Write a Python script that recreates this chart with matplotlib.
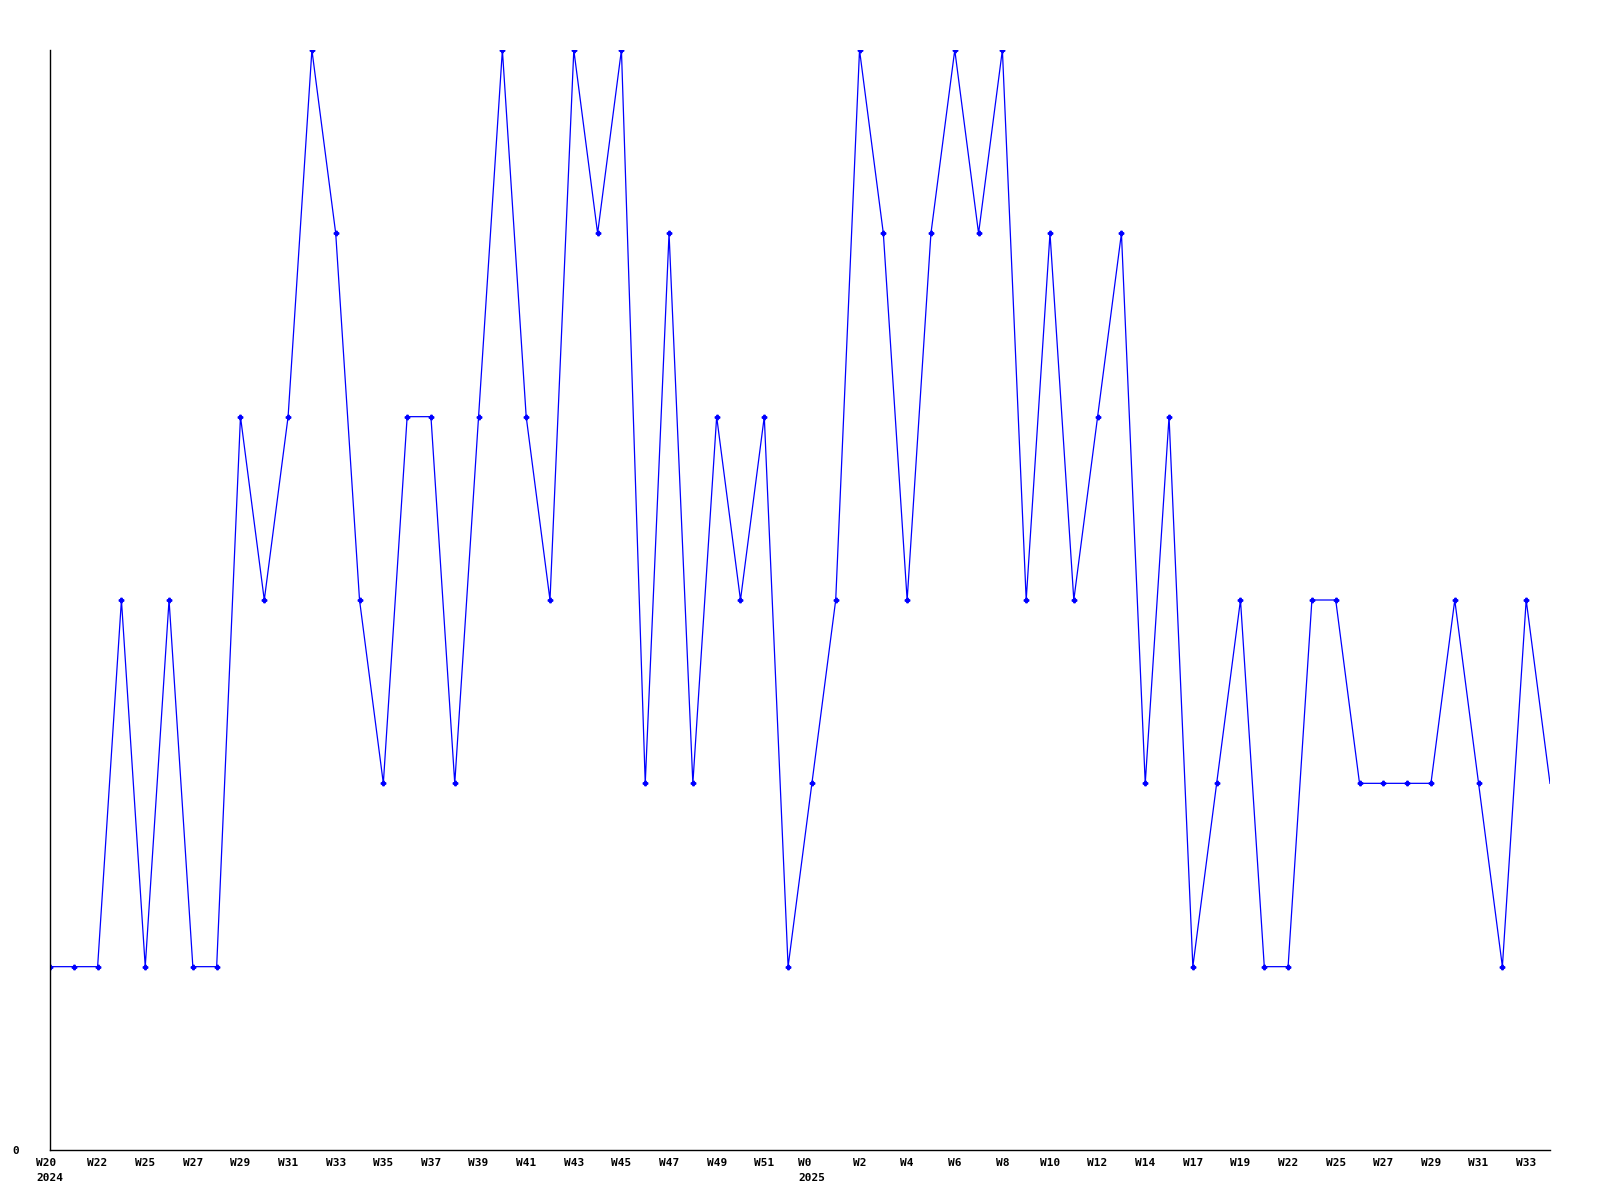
import numpy as np
import matplotlib
matplotlib.use("Agg")
import matplotlib.pyplot as plt

plt.rcParams["font.family"] = "DejaVu Sans Mono"
plt.rcParams["font.size"] = 8

values = [1, 1, 1, 3, 1, 3, 1, 1, 4, 3, 4, 6, 5, 3, 2, 4, 4, 2, 4, 6,
          4, 3, 6, 5, 6, 2, 5, 2, 4, 3, 4, 1, 2, 3, 6, 5, 3, 5, 6, 5,
          6, 3, 5, 3, 4, 5, 2, 4, 1, 2, 3, 1, 1, 3, 3, 2, 2, 2, 2, 3,
          2, 1, 3, 2]

week_labels = ["W20\n2024", "W22", "W25", "W27", "W29", "W31", "W33", "W35",
               "W37", "W39", "W41", "W43", "W45", "W47", "W49", "W51",
               "W0\n2025", "W2", "W4", "W6", "W8", "W10", "W12", "W14",
               "W17", "W19", "W22", "W25", "W27", "W29", "W31", "W33"]

x = np.arange(len(values))

fig = plt.figure(figsize=(16, 12), dpi=100)
ax = fig.add_axes([50/1600, 50/1200, 1500/1600, 1100/1200])

ax.plot(x, values, color="#0000ff", lw=0.9, marker="P", ms=3.2,
        markevery=list(range(len(values) - 1)))

ax.set_xlim(0, len(values) - 1)
ax.set_ylim(0, 6)
ax.set_xticks(x[::2])
ax.set_xticklabels(week_labels, fontweight="bold", linespacing=1.6,
                   va="top", multialignment="left")
ax.set_yticks([0])
ax.set_yticklabels(["0"], fontweight="bold")
ax.tick_params(length=0, pad=6)
ax.tick_params(axis="y", pad=22)
ax.spines["top"].set_visible(False)
ax.spines["right"].set_visible(False)
ax.spines["left"].set_linewidth(1)
ax.spines["bottom"].set_linewidth(1)

fig.savefig("out.png", dpi=100)
